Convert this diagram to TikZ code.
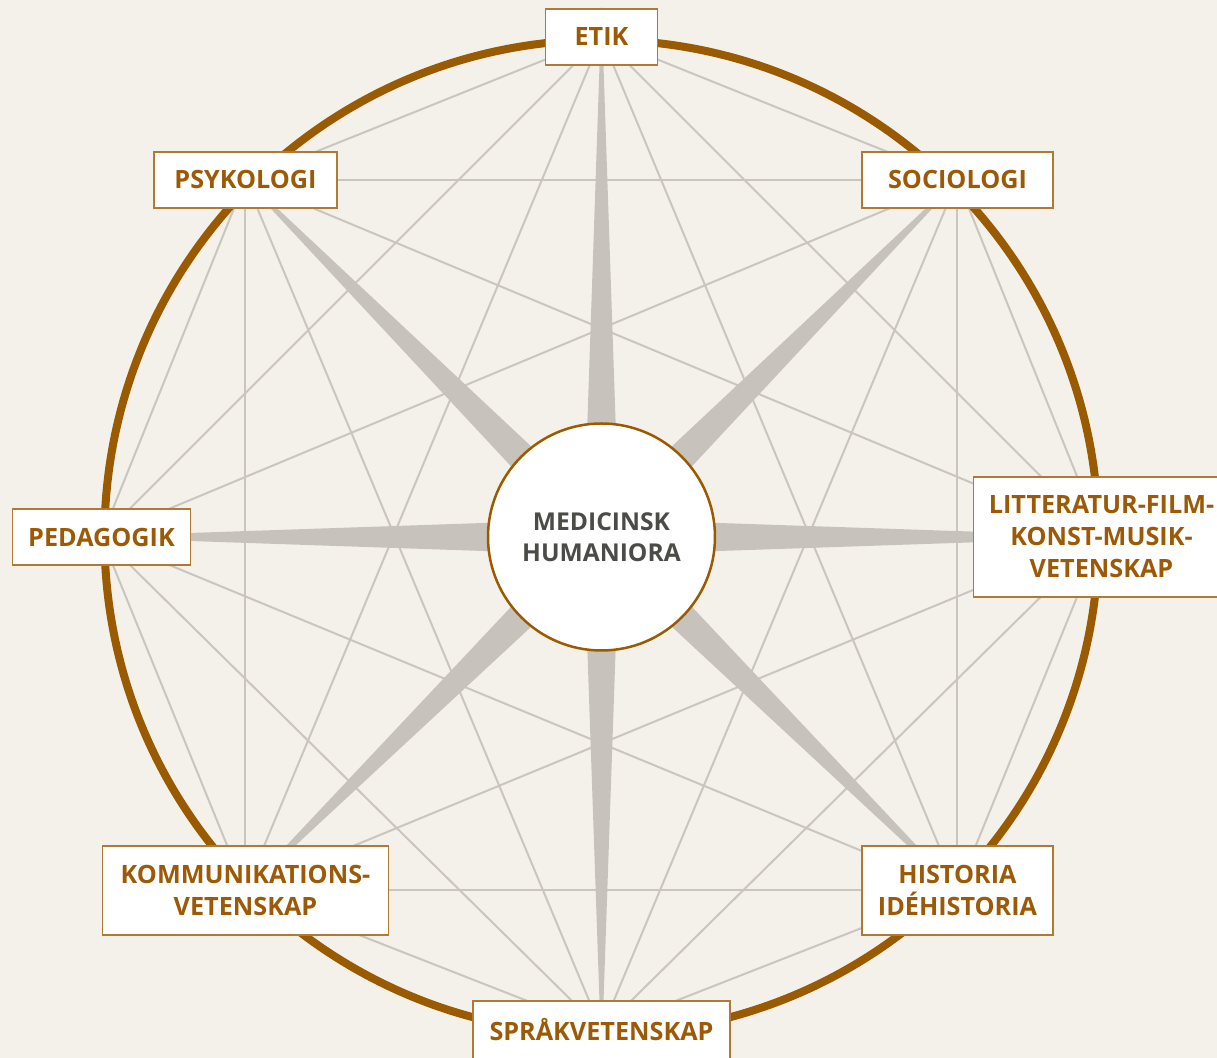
\documentclass[tikz,border=0pt]{standalone}
\usepackage{fontspec}
\setmainfont{Open Sans}
\usetikzlibrary{calc}

\definecolor{paper}{HTML}{F4F1EA}
\definecolor{ringbrown}{HTML}{9A5A00}
\definecolor{boxline}{HTML}{B07A35}
\definecolor{labelbrown}{HTML}{9C5A06}
\definecolor{linkgray}{HTML}{CAC6BF}
\definecolor{spokegray}{HTML}{C7C3BC}
\definecolor{hubtext}{HTML}{4B4B47}

\pgfdeclarelayer{back}
\pgfsetlayers{back,main}

\begin{document}
\begin{tikzpicture}[
			x=0.5pt, y=0.5pt,
			base/.style={draw=boxline, fill=white, line width=0.75pt, inner sep=0pt, align=center, text=labelbrown, font=\bfseries\fontsize{12.6}{16}\selectfont},
			field/.style={base, minimum height=28pt},
			field-two/.style={base, minimum height=44.5pt},
			hub/.style={circle, draw=ringbrown, fill=white, line width=1.25pt, minimum size=113.5pt, inner sep=0pt, align=center, text=hubtext, font=\bfseries\fontsize{12.3}{15.5}\selectfont},
			link/.style={draw=linkgray, line width=1pt, line join=round},
			spoke/.style={fill=spokegray},
			ring/.style={draw=ringbrown, line width=4pt},
			]

			\newcommand{\rad}{500}
			\newcommand{\spoke}[1]{\fill [spoke] ($(mh.center)!9pt!90:(#1.center)$) -- ($(mh.center)!1.06!(#1.center)$) -- ($(mh.center)!9pt!-90:(#1.center)$) -- cycle;}

			\useasboundingbox (-601.5,-521) rectangle (615.5,537);

			\node [field, minimum width=56pt]                        (etik)          at (90:\rad)      {ETIK};
			\node [field, minimum width=95.5pt]                      (sociologi)     at (356,357)      {SOCIOLOGI};
			\node [base, minimum width=128pt, minimum height=60pt]   (litteratur)    at (0:\rad)       {LITTERATUR-FILM-\\KONST-MUSIK-\\VETENSKAP};
			\node [field-two, minimum width=95.5pt]                  (historia)      at (356,-353.5)   {HISTORIA\\IDÉHISTORIA};
			\node [field, minimum width=128.5pt, minimum height=29pt] (sprak)        at (0,-493)       {SPRÅKVETENSKAP};
			\node [field-two, minimum width=143pt]                   (kommunikation) at (-356,-353.5)  {KOMMUNIKATIONS-\\VETENSKAP};
			\node [field, minimum width=89pt]                        (pedagogik)     at (180:\rad)     {PEDAGOGIK};
			\node [field, minimum width=91.5pt]                      (psykologi)     at (-356,357)     {PSYKOLOGI};

			\node [hub] (mh) at (0,0) {MEDICINSK\\HUMANIORA};

			\begin{pgfonlayer}{back}
				\fill [paper] (-601.5,-521) rectangle (615.5,537);

				% octagon
				\draw [link] (etik.center) -- (sociologi.center) -- (litteratur.center) -- (historia.center) -- (sprak.center) -- (kommunikation.center) -- (pedagogik.center) -- (psykologi.center) -- cycle;
				% two squares
				\draw [link] (etik.center) -- (litteratur.center) -- (sprak.center) -- (pedagogik.center) -- cycle;
				\draw [link] (sociologi.center) -- (historia.center) -- (kommunikation.center) -- (psykologi.center) -- cycle;
				% star
				\draw [link] (etik.center) -- (historia.center) -- (pedagogik.center) -- (sociologi.center) -- (sprak.center) -- (psykologi.center) -- (litteratur.center) -- (kommunikation.center) -- cycle;
				% diameters
				\draw [link] (etik.center) -- (sprak.center) (sociologi.center) -- (kommunikation.center) (litteratur.center) -- (pedagogik.center) (historia.center) -- (psykologi.center);

				\spoke{etik}
				\spoke{sociologi}
				\spoke{litteratur}
				\spoke{historia}
				\spoke{sprak}
				\spoke{kommunikation}
				\spoke{pedagogik}
				\spoke{psykologi}

				\draw [ring] (0,0) circle [radius=248.5pt];
			\end{pgfonlayer}

		\end{tikzpicture}
\end{document}
